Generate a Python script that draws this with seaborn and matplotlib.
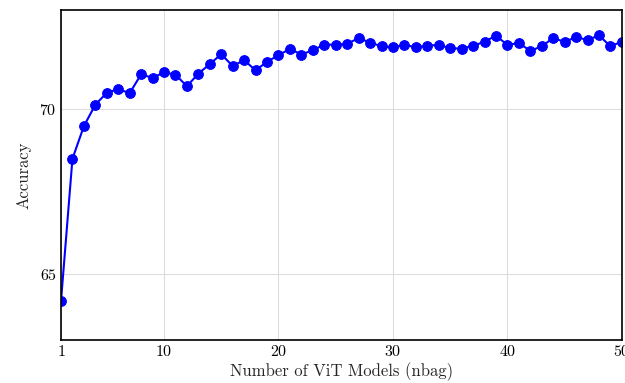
import numpy as np
import pandas as pd
import matplotlib
matplotlib.use("Agg")
import matplotlib.pyplot as plt
import seaborn as sns

# Datos
n_models = list(range(1, 51))
accuracy = [64.18, 68.49, 69.48, 70.13, 70.49, 70.60, 70.48, 71.05, 70.94, 71.11,
            71.04, 70.69, 71.07, 71.36, 71.66, 71.30, 71.48, 71.17, 71.43, 71.63,
            71.82, 71.65, 71.78, 71.95, 71.95, 71.97, 72.15, 72.01, 71.90, 71.87,
            71.94, 71.87, 71.92, 71.94, 71.84, 71.83, 71.91, 72.04, 72.22, 71.94,
            72.00, 71.76, 71.90, 72.15, 72.03, 72.18, 72.09, 72.23, 71.90, 72.04]
x_ticks = [1, 10, 20, 30, 40, 50]
y_ticks = [65, 70]

sns.set_style("whitegrid")
plt.rcParams['font.family'] = ['cmr10', 'DejaVu Serif']
plt.rcParams['axes.formatter.use_mathtext'] = True

df = pd.DataFrame({'nbag': n_models, 'acc': accuracy})

fig = plt.figure(figsize=(6.25, 3.83), dpi=100)
ax = fig.add_axes([0.0976, 0.1123, 0.8974, 0.8617])
sns.lineplot(data=df, x='nbag', y='acc', ax=ax, color='#0000ff', marker='o',
             markersize=7, markeredgecolor='#0000ff', linewidth=1.5)

ax.set_xlim(1, 50)
ax.set_ylim(63, 73)
ax.set_xticks(x_ticks)
ax.set_yticks(y_ticks)
ax.grid(True, color='#dcdcdc', linewidth=0.8)
for s in ax.spines.values():
    s.set_color('black')
    s.set_linewidth(1.2)
ax.tick_params(direction='in', length=3, labelsize=11.5, colors='black', pad=3)
ax.set_xlabel('Number of ViT Models (nbag)', fontsize=12, labelpad=2)
ax.set_ylabel('Accuracy', fontsize=12, labelpad=6)

fig.savefig('out.png', dpi=100)
